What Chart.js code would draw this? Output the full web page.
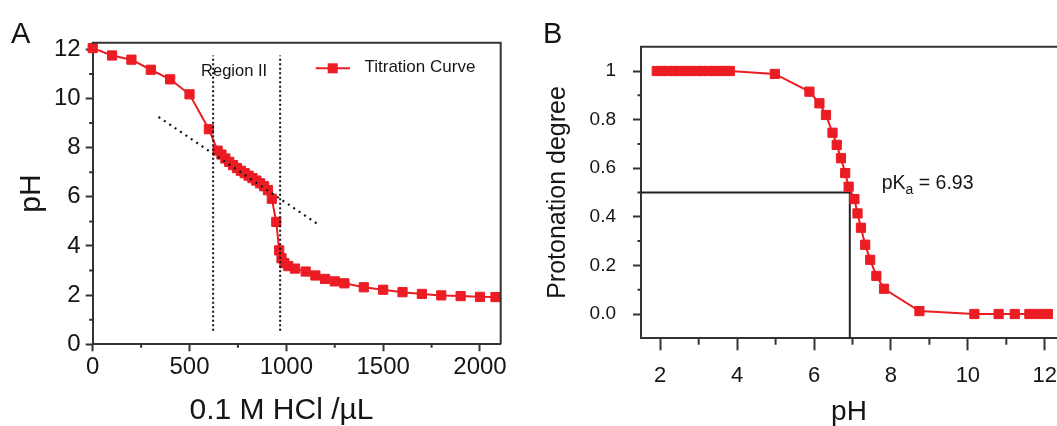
<!DOCTYPE html>
<html>
<head>
<meta charset="utf-8">
<script src="https://cdn.jsdelivr.net/npm/chart.js@4.4.1/dist/chart.umd.min.js"></script>
<style>
  html, body { margin: 0; padding: 0; background: #fff; overflow: hidden; width: 1057px; height: 426px; }
  #panelA { position: absolute; left: 0; top: 0; }
  #panelB { position: absolute; left: 530px; top: 0; }
</style>
</head>
<body>
<canvas id="panelA" width="530" height="426"></canvas>
<canvas id="panelB" width="570" height="426"></canvas>
<script>
// --- Panel A: titration curve ---
const hclVolume = [0, 100, 200, 300, 400, 500, 600,
  645, 665, 685, 705, 725, 745, 765, 785, 805, 825, 845, 865, 885, 905, 925,
  948, 963, 975, 990, 1010, 1045, 1100, 1150, 1200, 1250, 1300,
  1400, 1500, 1600, 1700, 1800, 1900, 2000, 2080];
const phValues = [12.05, 11.75, 11.58, 11.17, 10.78, 10.17, 8.75,
  7.88, 7.72, 7.56, 7.42, 7.29, 7.17, 7.06, 6.96, 6.86, 6.76, 6.66, 6.55, 6.43, 6.27, 5.92,
  4.98, 3.82, 3.5, 3.3, 3.18, 3.08, 2.96, 2.8, 2.66, 2.56, 2.48,
  2.32, 2.22, 2.12, 2.05, 1.99, 1.96, 1.93, 1.92];
const regionBounds = [622, 968];
const regionSpan = [0.55, 11.75];
const trendX = [340, 1175];
const trendY = [9.25, 4.82];
const xTicksA = [0, 500, 1000, 1500, 2000];
const xMinorA = [250, 750, 1250, 1750];
const yTicksA = [0, 2, 4, 6, 8, 10, 12];
const yMinorA = [1, 3, 5, 7, 9, 11];

// --- Panel B: protonation degree ---
const phB = [1.91, 2.05, 2.2, 2.35, 2.5, 2.65, 2.8, 2.95, 3.1, 3.25, 3.4, 3.55, 3.7, 3.81,
  4.98, 5.88, 6.14, 6.31, 6.48, 6.59, 6.70, 6.81, 6.90, 7.05, 7.13, 7.22, 7.33, 7.46, 7.62, 7.82,
  8.74, 10.17, 10.8, 11.22, 11.6, 11.85, 12.08];
const protonation = [1, 1, 1, 1, 1, 1, 1, 1, 1, 1, 1, 1, 1, 1,
  0.988, 0.915, 0.867, 0.819, 0.746, 0.696, 0.641, 0.58, 0.524, 0.473, 0.414, 0.355, 0.285, 0.223, 0.157, 0.104,
  0.012, 0, 0, 0, 0, 0, 0];
const pKa = 6.93;
const halfPoint = 0.5;
const xTicksB = [2, 4, 6, 8, 10, 12];
const xMinorB = [3, 5, 7, 9, 11];
const yTicksB = [0, 0.2, 0.4, 0.6, 0.8, 1];
const yLabelsB = ['0.0', '0.2', '0.4', '0.6', '0.8', '1'];
const yMinorB = [0.1, 0.3, 0.5, 0.7, 0.9];
const xRangeB = [1.5, 12.5];
const yRangeB = [-0.1, 1.1];

const FONT = '"Liberation Sans", Arial, Helvetica, sans-serif';
const RED = '#ec1c24';
const AXIS = '#333';
const TEXT = '#151515';
Chart.defaults.font.family = FONT;
Chart.defaults.color = TEXT;

// marco, ticks menores y textos sueltos
const decor = {
  id: 'decor',
  afterDraw(chart, args, opts) {
    const { ctx, chartArea: a, scales: { x, y } } = chart;
    ctx.save();
    ctx.strokeStyle = AXIS;
    ctx.lineWidth = 2;
    ctx.beginPath();
    ctx.moveTo(a.left - 1, a.top);
    ctx.lineTo(a.right, a.top);
    ctx.lineTo(a.right, a.bottom);
    ctx.stroke();

    ctx.beginPath();
    opts.xMinor.forEach(v => {
      const px = x.getPixelForValue(v);
      ctx.moveTo(px, a.bottom);
      ctx.lineTo(px, a.bottom + opts.xMinorLen);
    });
    opts.yMinor.forEach(v => {
      const py = y.getPixelForValue(v);
      ctx.moveTo(a.left, py);
      ctx.lineTo(a.left - opts.yMinorLen, py);
    });
    ctx.stroke();

    ctx.fillStyle = TEXT;
    ctx.font = '29px ' + FONT;
    ctx.textBaseline = 'alphabetic';
    ctx.textAlign = 'left';
    ctx.fillText(opts.letter, opts.letterX, 43);
    if (opts.extra) opts.extra(chart, ctx);
    ctx.restore();
  }
};

function fixedAxis(size, horizontal) {
  return s => { if (horizontal) s.height = size; else s.width = size; };
}
function useTicks(values) {
  return s => { s.ticks = values.map(v => ({ value: v })); };
}

// Panel A
new Chart(document.getElementById('panelA'), {
  type: 'scatter',
  data: {
    datasets: [
      {
        data: [{ x: regionBounds[0], y: regionSpan[0] }, { x: regionBounds[0], y: regionSpan[1] }],
        showLine: true, borderColor: '#111', borderWidth: 2, borderDash: [2, 2.5], pointRadius: 0
      },
      {
        data: [{ x: regionBounds[1], y: regionSpan[0] }, { x: regionBounds[1], y: regionSpan[1] }],
        showLine: true, borderColor: '#111', borderWidth: 2, borderDash: [2, 2.5], pointRadius: 0
      },
      {
        data: [{ x: trendX[0], y: trendY[0] }, { x: trendX[1], y: trendY[1] }],
        showLine: true, borderColor: '#111', borderWidth: 2.2, borderDash: [2, 4.5], pointRadius: 0
      },
      {
        data: hclVolume.map((v, i) => ({ x: v, y: phValues[i] })),
        showLine: true, borderColor: RED, borderWidth: 2,
        pointStyle: 'rect', pointRadius: 6.5, pointBorderWidth: 1,
        pointBackgroundColor: RED, pointBorderColor: RED, clip: false
      }
    ]
  },
  options: {
    responsive: false,
    devicePixelRatio: 1,
    animation: false,
    events: [],
    layout: { padding: { top: 42.7, right: 29.3, left: 0, bottom: 0 } },
    plugins: {
      legend: { display: false },
      tooltip: { enabled: false },
      decor: {
        xMinor: xMinorA, yMinor: yMinorA, xMinorLen: 3.5, yMinorLen: 3.5,
        letter: 'A', letterX: 11,
        extra(chart, ctx) {
          const { x, y } = chart.scales;
          ctx.font = '16.5px ' + FONT;
          ctx.textBaseline = 'middle';
          ctx.textAlign = 'center';
          ctx.fillText('Region II', x.getPixelForValue(730), y.getPixelForValue(11.1));
          // titulo del eje x
          ctx.font = '30px ' + FONT;
          ctx.fillText('0.1 M HCl /µL', 281.5, 411);
          // leyenda
          ctx.strokeStyle = RED;
          ctx.lineWidth = 2;
          ctx.beginPath();
          ctx.moveTo(315.7, 68.3);
          ctx.lineTo(350, 68.3);
          ctx.stroke();
          ctx.fillStyle = RED;
          ctx.fillRect(327.7, 63.3, 10, 10);
          ctx.fillStyle = TEXT;
          ctx.font = '17px ' + FONT;
          ctx.textAlign = 'left';
          ctx.fillText('Titration Curve', 364.5, 67);
        }
      }
    },
    scales: {
      x: {
        type: 'linear', min: 0, max: 2107,
        afterFit: fixedAxis(81.7, true),
        afterBuildTicks: useTicks(xTicksA),
        grid: { drawOnChartArea: false, tickLength: 7, tickWidth: 2, tickColor: AXIS },
        border: { color: AXIS, width: 2 },
        ticks: { font: { size: 24 }, padding: 2, maxRotation: 0, autoSkip: false, callback: v => String(v) },
        title: { display: false }
      },
      y: {
        type: 'linear', min: 0, max: 12.27,
        afterFit: fixedAxis(92.7, false),
        afterBuildTicks: useTicks(yTicksA),
        grid: { drawOnChartArea: false, tickLength: 7, tickWidth: 2, tickColor: AXIS },
        border: { color: AXIS, width: 2 },
        ticks: { font: { size: 24 }, padding: 5, autoSkip: false, callback: v => String(v) },
        title: { display: true, text: 'pH', font: { size: 30, lineHeight: 1.2 }, padding: { top: 13.5, bottom: 0 } }
      }
    }
  },
  plugins: [decor]
});

// Panel B
new Chart(document.getElementById('panelB'), {
  type: 'scatter',
  data: {
    datasets: [
      {
        data: phB.map((v, i) => ({ x: v, y: protonation[i] })),
        showLine: true, borderColor: RED, borderWidth: 2,
        pointStyle: 'rect', pointRadius: 6.5, pointBorderWidth: 1,
        pointBackgroundColor: RED, pointBorderColor: RED, clip: false
      },
      {
        data: [{ x: xRangeB[0], y: halfPoint }, { x: pKa, y: halfPoint }, { x: pKa, y: yRangeB[0] }],
        showLine: true, borderColor: '#222', borderWidth: 2, pointRadius: 0
      }
    ]
  },
  options: {
    responsive: false,
    devicePixelRatio: 1,
    animation: false,
    events: [],
    layout: { padding: { top: 46.7, right: 36, left: 0, bottom: 0 } },
    plugins: {
      legend: { display: false },
      tooltip: { enabled: false },
      decor: {
        xMinor: xMinorB, yMinor: yMinorB, xMinorLen: 6.5, yMinorLen: 3.5,
        letter: 'B', letterX: 13,
        extra(chart, ctx) {
          const { x, y } = chart.scales;
          let px = x.getPixelForValue(7.76);
          const py = y.getPixelForValue(0.536);
          ctx.font = '19.5px ' + FONT;
          ctx.textBaseline = 'middle';
          ctx.textAlign = 'left';
          ctx.fillText('pK', px, py);
          px += ctx.measureText('pK').width;
          ctx.font = '14px ' + FONT;
          ctx.fillText('a', px, py + 6);
          px += ctx.measureText('a').width;
          ctx.font = '19.5px ' + FONT;
          ctx.fillText(' = ' + pKa.toFixed(2), px, py);
          // titulo del eje x
          ctx.font = '28px ' + FONT;
          ctx.textAlign = 'center';
          ctx.fillText('pH', 849 - 530, 412);
        }
      }
    },
    scales: {
      x: {
        type: 'linear', min: xRangeB[0], max: xRangeB[1],
        afterFit: fixedAxis(87.7, true),
        afterBuildTicks: useTicks(xTicksB),
        grid: { drawOnChartArea: false, tickLength: 12, tickWidth: 2, tickColor: AXIS },
        border: { color: AXIS, width: 2 },
        ticks: { font: { size: 22 }, padding: 12, maxRotation: 0, autoSkip: false, callback: v => String(v) },
        title: { display: false }
      },
      y: {
        type: 'linear', min: yRangeB[0], max: yRangeB[1],
        afterFit: fixedAxis(111, false),
        afterBuildTicks: useTicks(yTicksB),
        grid: { drawOnChartArea: false, tickLength: 8, tickWidth: 2, tickColor: AXIS },
        border: { color: AXIS, width: 2 },
        ticks: { font: { size: 19 }, padding: 17, autoSkip: false, callback: (v, i) => yLabelsB[i] },
        title: { display: true, text: 'Protonation degree', font: { size: 25, lineHeight: 1.2 }, padding: { top: 13.6, bottom: 0 } }
      }
    }
  },
  plugins: [decor]
});
</script>
</body>
</html>
